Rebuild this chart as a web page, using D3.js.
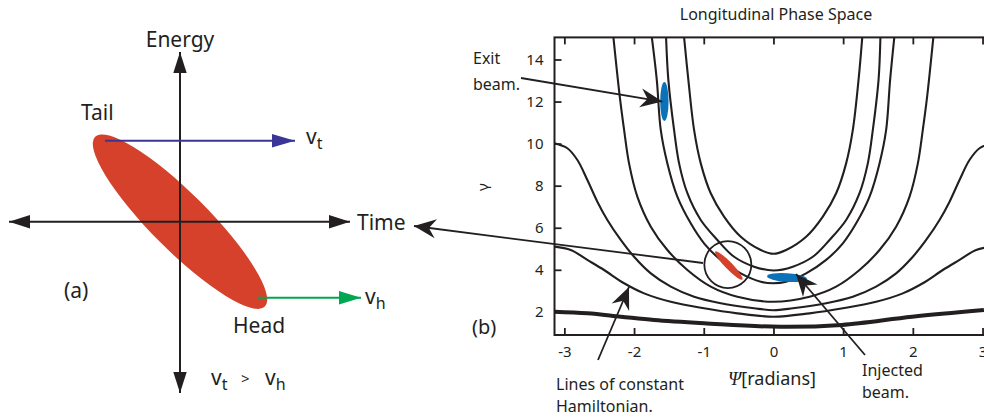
<!DOCTYPE html>
<html>
<head>
<meta charset="utf-8">
<script src="https://cdn.jsdelivr.net/npm/d3@7"></script>
<style>
  body { margin: 0; background: #fff; }
  text { font-family: "Noto Sans", sans-serif; fill: #231f20; }
</style>
</head>
<body>
<svg width="984" height="418"></svg>
<script>
// ---- data ----
const psiTicks = [-3, -2, -1, 0, 1, 2, 3];
const gammaTicks = [2, 4, 6, 8, 10, 12, 14];

// lines of constant Hamiltonian, [psi, gamma]
const lineA = [[-1.283,15.08],[-1.221,13.03],[-1.139,10.65],[-1.043,9.06],[-0.90,7.64],[-0.709,6.53],[-0.469,5.57],[-0.182,4.94],[0,4.76],
               [0.182,4.94],[0.469,5.57],[0.709,6.53],[0.90,7.64],[1.043,9.06],[1.139,10.65],[1.221,13.03],[1.275,15.08]];
const lineB = [[-1.541,15.08],[-1.508,13.03],[-1.426,10.65],[-1.354,9.06],[-1.235,7.64],[-1.043,6.37],[-0.805,5.42],[-0.565,4.62],[-0.278,4.15],[0,3.97],
               [0.278,4.15],[0.565,4.62],[0.805,5.42],[1.043,6.37],[1.235,7.64],[1.354,9.06],[1.426,10.65],[1.508,13.03],[1.535,15.08]];
const lineC = [[-1.746,15.08],[-1.674,13.03],[-1.617,10.65],[-1.522,9.06],[-1.379,7.48],[-1.187,6.21],[-0.996,5.26],[-0.756,4.47],[-0.469,3.83],[-0.182,3.43],[0,3.36],
               [0.182,3.43],[0.469,3.83],[0.756,4.47],[0.996,5.26],[1.187,6.21],[1.379,7.48],[1.522,9.06],[1.617,10.65],[1.674,13.03],[1.735,15.08]];
const lineD = [[-2.297,15.08],[-2.205,12.23],[-2.143,10.65],[-2.072,9.06],[-1.953,7.48],[-1.76,6.05],[-1.522,4.94],[-1.235,3.99],[-0.90,3.2],[-0.518,2.72],[0,2.48],
               [0.518,2.72],[0.90,3.2],[1.235,3.99],[1.522,4.94],[1.76,6.05],[1.953,7.48],[2.072,9.06],[2.143,10.65],[2.205,12.23],[2.295,15.08]];
const lineE = [[-3.1416,10.02],[-2.957,9.78],[-2.813,9.22],[-2.67,8.27],[-2.527,7.24],[-2.383,6.37],[-2.191,5.42],[-2.0,4.62],[-1.76,3.83],[-1.473,3.2],
               [-1.139,2.72],[-0.756,2.41],[-0.278,2.17],[0,2.08],[0.278,2.17],[0.756,2.41],[1.139,2.72],[1.473,3.2],[1.76,3.83],[2.0,4.62],
               [2.191,5.42],[2.383,6.37],[2.527,7.24],[2.67,8.27],[2.813,9.22],[2.957,9.78],[3.1416,10.02]];
const lineF = [[-3.1416,5.10],[-2.908,4.94],[-2.67,4.47],[-2.43,3.99],[-2.143,3.36],[-1.856,2.88],[-1.473,2.48],[-0.996,2.17],[-0.518,1.93],[0,1.77],
               [0.518,1.93],[0.996,2.17],[1.473,2.48],[1.856,2.88],[2.143,3.36],[2.43,3.99],[2.67,4.47],[2.908,4.94],[3.1416,5.10]];
const lineFloor = [[-3.1416,2.01],[-2.67,1.93],[-2.191,1.77],[-1.713,1.61],[-0.996,1.46],[0.095,1.29],[0.98,1.38],[1.99,1.77],[3.02,2.09]];
const hamiltonianLines = [lineA, lineB, lineC, lineD, lineE, lineF];

// beam positions [psi, gamma]
const exitBeam = [-1.565, 12.0];
const injectedBeam = [0.195, 3.63];
const bunch = [-0.64, 4.2];

const svg = d3.select("svg");
const ink = "#231f20", red = "#d5412a", blue = "#0b72b9";

// ---- arrow heads ----
const defs = svg.append("defs");
function head(id, color, d) {
  defs.append("marker").attr("id", id)
    .attr("viewBox", "-24 -11 26 22").attr("markerWidth", 26).attr("markerHeight", 22)
    .attr("markerUnits", "userSpaceOnUse").attr("orient", "auto-start-reverse")
    .attr("refX", 0).attr("refY", 0)
    .append("path").attr("d", d).attr("fill", color);
}
head("tri", ink, "M0,0L-21,-6.7L-21,6.7Z");
head("triBlue", "#3b3598", "M0,0L-23,-6.7L-23,6.7Z");
head("triGreen", "#00a651", "M0,0L-22,-6.7L-22,6.7Z");
head("barb", ink, "M0,0L-22,-9.5L-15,0L-22,9.5Z");

// ---- panel (a) ----
const a = svg.append("g");
a.append("ellipse").attr("cx", 180).attr("cy", 221.7).attr("rx", 120).attr("ry", 28.5)
  .attr("transform", "rotate(45,180,221.7)").attr("fill", red);
a.append("line").attr("x1", 9).attr("y1", 221.7).attr("x2", 350).attr("y2", 221.7)
  .attr("stroke", ink).attr("stroke-width", 2).attr("marker-start", "url(#tri)").attr("marker-end", "url(#tri)");
a.append("line").attr("x1", 180).attr("y1", 393).attr("x2", 180).attr("y2", 52)
  .attr("stroke", ink).attr("stroke-width", 2).attr("marker-start", "url(#tri)").attr("marker-end", "url(#tri)");
a.append("line").attr("x1", 105).attr("y1", 140.7).attr("x2", 295).attr("y2", 140.7)
  .attr("stroke", "#3b3598").attr("stroke-width", 2).attr("marker-end", "url(#triBlue)");
a.append("line").attr("x1", 258).attr("y1", 297.7).attr("x2", 361).attr("y2", 297.7)
  .attr("stroke", "#00a651").attr("stroke-width", 2).attr("marker-end", "url(#triGreen)");

const big = 21;
a.append("text").attr("x", 180).attr("y", 47).attr("text-anchor", "middle").attr("font-size", big).text("Energy");
a.append("text").attr("x", 81).attr("y", 120).attr("font-size", big).text("Tail");
a.append("text").attr("x", 357).attr("y", 229.5).attr("font-size", big).text("Time");
a.append("text").attr("x", 233).attr("y", 333).attr("font-size", big).text("Head");
a.append("text").attr("x", 64).attr("y", 298).attr("font-size", big).text("(a)");
function vsub(x, y, sub) {
  const t = a.append("text").attr("x", x).attr("y", y).attr("font-size", big);
  t.append("tspan").text("v");
  t.append("tspan").attr("font-size", 16).attr("dy", 5).text(sub);
  return t;
}
vsub(306, 144, "t");
vsub(365, 304, "h");
vsub(211, 385, "t");
a.append("text").attr("x", 241).attr("y", 384).attr("font-size", 15).text(">");
vsub(265, 385, "h");

// ---- panel (b) ----
const x = d3.scaleLinear().domain([-Math.PI, Math.PI]).range([554.5, 992.4]);
const y = d3.scaleLinear().domain([0.9, 15.05]).range([335, 37.4]);
const b = svg.append("g");

defs.append("clipPath").attr("id", "plot").append("rect")
  .attr("x", x(-Math.PI)).attr("y", y(15.05)).attr("width", x(Math.PI) - x(-Math.PI)).attr("height", y(0.9) - y(15.05));

const line = d3.line().x(d => x(d[0])).y(d => y(d[1])).curve(d3.curveCatmullRom.alpha(0.5));
const curves = b.append("g").attr("clip-path", "url(#plot)").attr("fill", "none").attr("stroke", ink)
  .attr("stroke-linejoin", "round");
curves.selectAll("path.h").data(hamiltonianLines).join("path").attr("class", "h")
  .attr("d", line).attr("stroke-width", 2.1);
curves.append("path").attr("d", line(lineFloor)).attr("stroke-width", 4);

b.append("text").attr("x", 776).attr("y", 20).attr("text-anchor", "middle").attr("font-size", 16)
  .text("Longitudinal Phase Space");

b.append("rect").attr("x", x(-Math.PI)).attr("y", y(15.05))
  .attr("width", x(Math.PI) - x(-Math.PI)).attr("height", y(0.9) - y(15.05))
  .attr("fill", "none").attr("stroke", ink).attr("stroke-width", 2);

function styleAxis(g) {
  g.select(".domain").remove();
  g.selectAll(".tick line").attr("stroke", ink).attr("stroke-width", 1.8);
  g.selectAll(".tick text").attr("font-family", "Liberation Sans, Arial, sans-serif").attr("font-size", 15).attr("fill", ink);
}
b.append("g").attr("transform", `translate(0,${y(0.9)})`)
  .call(d3.axisBottom(x).tickValues(psiTicks).tickSize(-7).tickPadding(11).tickFormat(d => String(d))).call(styleAxis);
b.append("g").attr("transform", `translate(0,${y(15.05)})`)
  .call(d3.axisTop(x).tickValues(psiTicks).tickSize(-7).tickFormat("")).call(styleAxis);
b.append("g").attr("transform", `translate(${x(-Math.PI)},0)`)
  .call(d3.axisLeft(y).tickValues(gammaTicks).tickSize(-7).tickPadding(11).tickFormat(d => String(d))).call(styleAxis);

b.append("text").attr("transform", "translate(488,187) rotate(-90)").attr("text-anchor", "middle")
  .attr("font-size", 15).text("γ");
b.append("text").attr("x", 472).attr("y", 334).attr("font-size", 20).text("(b)");

const xl = b.append("text").attr("x", 728).attr("y", 385).attr("font-size", 18);
xl.append("tspan").attr("font-family", "Liberation Serif, serif").attr("font-style", "italic").attr("font-size", 19).text("Ψ");
xl.append("tspan").text("[radians]");

// beams
b.append("ellipse").attr("cx", x(exitBeam[0])).attr("cy", y(exitBeam[1])).attr("rx", 4.2).attr("ry", 19.5).attr("fill", blue);
b.append("ellipse").attr("cx", x(injectedBeam[0])).attr("cy", y(injectedBeam[1])).attr("rx", 20).attr("ry", 4.3)
  .attr("transform", `rotate(4,${x(injectedBeam[0])},${y(injectedBeam[1])})`).attr("fill", blue);
b.append("ellipse").attr("cx", x(bunch[0])).attr("cy", y(bunch[1])).attr("rx", 19.5).attr("ry", 3.6)
  .attr("transform", `rotate(46,${x(bunch[0])},${y(bunch[1])})`).attr("fill", red);
b.append("circle").attr("cx", x(bunch[0]) - 1).attr("cy", y(bunch[1]) - 1).attr("r", 23.5)
  .attr("fill", "none").attr("stroke", ink).attr("stroke-width", 1.8);

// annotation arrows
const arrows = [
  [521, 78, x(exitBeam[0]) - 2, y(exitBeam[1])],
  [703, 263, 414, 226],
  [865, 355, 796, 274],
  [598, 360, 629, 287]
];
b.selectAll("line.arrow").data(arrows).join("line").attr("class", "arrow")
  .attr("x1", d => d[0]).attr("y1", d => d[1]).attr("x2", d => d[2]).attr("y2", d => d[3])
  .attr("stroke", ink).attr("stroke-width", 1.8).attr("marker-end", "url(#barb)");

const note = 16;
b.append("text").attr("x", 473).attr("y", 64).attr("font-size", note).text("Exit");
b.append("text").attr("x", 473).attr("y", 90).attr("font-size", note).text("beam.");
b.append("text").attr("x", 862).attr("y", 376).attr("font-size", note).text("Injected");
b.append("text").attr("x", 862).attr("y", 398).attr("font-size", note).text("beam.");
b.append("text").attr("x", 556).attr("y", 390).attr("font-size", note).text("Lines of constant");
b.append("text").attr("x", 556).attr("y", 412).attr("font-size", note).text("Hamiltonian.");
</script>
</body>
</html>
